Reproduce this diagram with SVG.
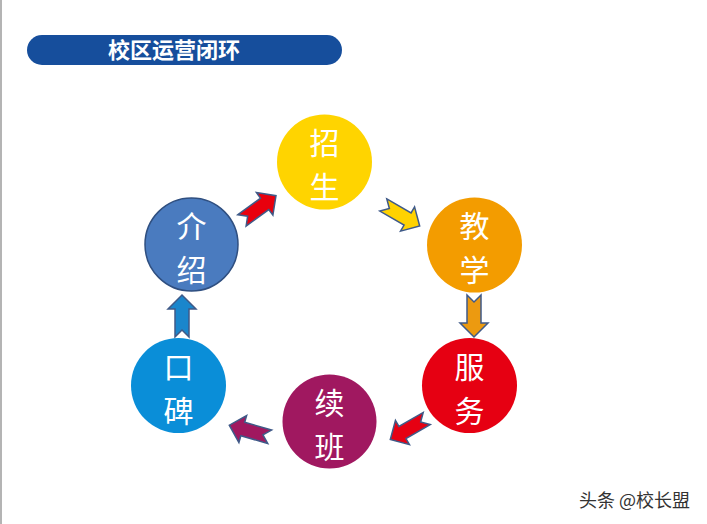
<svg xmlns="http://www.w3.org/2000/svg" xmlns:xlink="http://www.w3.org/1999/xlink" width="707" height="524" viewBox="0 0 707 524">
<style>
.node{stroke:none}
.lbl{font-family:"Noto Sans CJK SC","Noto Sans CJK JP",sans-serif;font-size:30px;fill:#ffffff;text-anchor:middle}
.title{font-family:"Noto Sans CJK SC",sans-serif;font-size:22px;font-weight:bold;fill:#ffffff;text-anchor:middle}
.arr{stroke:#3f5a88;stroke-width:1.5;stroke-linejoin:miter}
.wm{font-family:"Noto Sans CJK SC",sans-serif;font-size:18px;fill:#333333}
</style>
<defs>
<path id="arrow" d="M-21,-7 L7,-7 L7,-14 L21,0 L7,14 L7,7 L-21,7 L-14,0 Z"/>
</defs>
<rect x="0" y="0" width="707" height="524" fill="#ffffff"/>
<rect x="0" y="0" width="2" height="524" fill="#b4b4b4"/>
<g id="title">
<rect x="27" y="35" width="315" height="30" rx="15" ry="15" fill="#164e9c"/>
<text class="title" x="174" y="58">校区运营闭环</text>
</g>
<g id="connectors">
<use xlink:href="#arrow" class="arr" fill="#e8000d" transform="translate(259,208) rotate(-36)"/>
<use xlink:href="#arrow" class="arr" fill="#ffd200" transform="translate(401.5,215.5) rotate(30)"/>
<use xlink:href="#arrow" class="arr" fill="#ec9a10" transform="translate(474,316) rotate(90)"/>
<use xlink:href="#arrow" class="arr" fill="#e60012" transform="translate(408.5,429) rotate(150)"/>
<use xlink:href="#arrow" class="arr" fill="#a0185f" transform="translate(249.5,431) rotate(196)"/>
<use xlink:href="#arrow" class="arr" fill="#1a86cc" transform="translate(182,316) rotate(-90)"/>
</g>
<g id="node-zhaosheng">
<circle class="node" cx="324.5" cy="162" r="47.5" fill="#ffd400"/>
<text class="lbl" x="324.5" y="154">招</text>
<text class="lbl" x="324.5" y="198">生</text>
</g>
<g id="node-jiaoxue">
<circle class="node" cx="474.5" cy="245" r="47.5" fill="#f39c00"/>
<text class="lbl" x="474.5" y="237">教</text>
<text class="lbl" x="474.5" y="281">学</text>
</g>
<g id="node-fuwu">
<circle class="node" cx="469.5" cy="385.5" r="47.5" fill="#e60012"/>
<text class="lbl" x="469.5" y="377.5">服</text>
<text class="lbl" x="469.5" y="421.5">务</text>
</g>
<g id="node-xuban">
<circle class="node" cx="329.5" cy="421.5" r="47" fill="#a01860"/>
<text class="lbl" x="329.5" y="413.5">续</text>
<text class="lbl" x="329.5" y="457.5">班</text>
</g>
<g id="node-koubei">
<circle class="node" cx="178.5" cy="385.5" r="47.5" fill="#0a8ed8"/>
<text class="lbl" x="178.5" y="377.5">口</text>
<text class="lbl" x="178.5" y="421.5">碑</text>
</g>
<g id="node-jieshao">
<circle cx="191.5" cy="244.5" r="46.5" fill="#4a7bbf" stroke="#2f4f80" stroke-width="1.5"/>
<text class="lbl" x="191.5" y="236.5">介</text>
<text class="lbl" x="191.5" y="280.5">绍</text>
</g>
<g id="watermark">
<text class="wm" x="579" y="507">头条 @校长盟</text>
</g>
</svg>
